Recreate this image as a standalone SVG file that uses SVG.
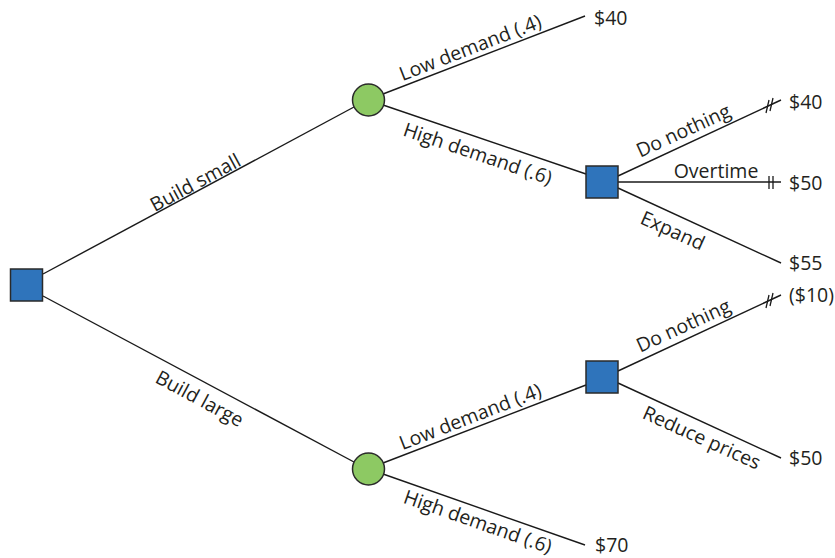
<svg xmlns="http://www.w3.org/2000/svg" width="835" height="558" viewBox="0 0 835 558">
<style>
.dec{fill:#2F74BB;stroke:#2a2a2a;stroke-width:1.5}
.chn{fill:#8DC963;stroke:#2a2a2a;stroke-width:1.5}
.ln{stroke:#1a1a1a;stroke-width:1.4;fill:none}
.hash{stroke:#1a1a1a;stroke-width:1.3}
text{font-family:"Open Sans","Liberation Sans",sans-serif;font-size:19.5px;fill:#231f20}
.lbl{text-anchor:middle;dominant-baseline:central}
</style>
<rect width="835" height="558" fill="#fff"/>
<g id="connectors">
<line class="ln" x1="43" y1="274" x2="354" y2="107"/>
<line class="ln" x1="43" y1="296" x2="354" y2="462"/>
<line class="ln" x1="383" y1="94" x2="585" y2="16"/>
<line class="ln" x1="383" y1="105" x2="586" y2="174"/>
<line class="ln" x1="383" y1="463" x2="586" y2="385"/>
<line class="ln" x1="383" y1="474" x2="585" y2="545"/>
<line class="ln" x1="618" y1="176" x2="781" y2="100"/>
<line class="ln" x1="618" y1="182" x2="781" y2="182"/>
<line class="ln" x1="618" y1="188" x2="781" y2="263"/>
<line class="ln" x1="618" y1="371" x2="781" y2="295"/>
<line class="ln" x1="618" y1="383" x2="781" y2="458"/>
<line class="hash" x1="766" y1="113" x2="769" y2="100"/>
<line class="hash" x1="770" y1="111" x2="773" y2="98"/>
<line class="hash" x1="769" y1="176" x2="769" y2="189"/>
<line class="hash" x1="773" y1="176" x2="773" y2="189"/>
<line class="hash" x1="766" y1="308" x2="769" y2="295"/>
<line class="hash" x1="770" y1="306" x2="773" y2="293"/>
<text class="lbl" transform="translate(195,182) rotate(-28.4)">Build small</text>
<text class="lbl" transform="translate(200,398) rotate(28.3)">Build large</text>
<text class="lbl" transform="translate(470,47) rotate(-21.2)">Low demand (.4)</text>
<text class="lbl" transform="translate(478,153) rotate(18.7)">High demand (.6)</text>
<text class="lbl" transform="translate(470,416) rotate(-21.2)">Low demand (.4)</text>
<text class="lbl" transform="translate(478,521) rotate(19.3)">High demand (.6)</text>
<text class="lbl" transform="translate(683,130) rotate(-24.6)">Do nothing</text>
<text class="lbl" x="716" y="170">Overtime</text>
<text class="lbl" transform="translate(673,230) rotate(24.3)">Expand</text>
<text class="lbl" transform="translate(683,325) rotate(-24.6)">Do nothing</text>
<text class="lbl" transform="translate(702,437) rotate(24.3)">Reduce prices</text>
</g>
<g id="n-root"><rect class="dec" x="10.5" y="269" width="32" height="32"/></g>
<g id="n-chance-small"><circle class="chn" cx="368.5" cy="100" r="16"/></g>
<g id="n-chance-large"><circle class="chn" cx="368.5" cy="469" r="16"/></g>
<g id="n-dec-high"><rect class="dec" x="586" y="166" width="32" height="32"/></g>
<g id="n-dec-low"><rect class="dec" x="586" y="361" width="32" height="32"/></g>
<g id="values">
<text x="594" y="25">$40</text>
<text x="789" y="109">$40</text>
<text x="789" y="189.5">$50</text>
<text x="789" y="269.5">$55</text>
<text x="789" y="301.5">($10)</text>
<text x="789" y="464.5">$50</text>
<text x="595" y="551.5">$70</text>
</g>
</svg>
